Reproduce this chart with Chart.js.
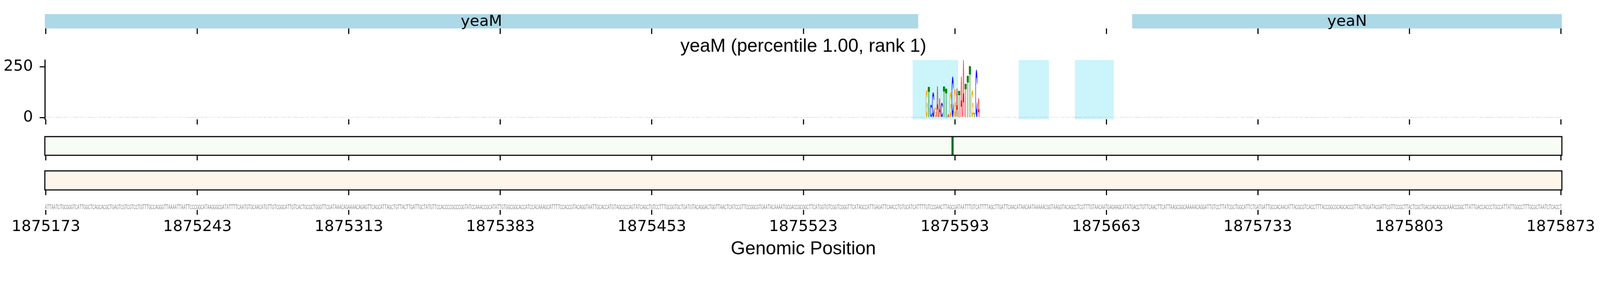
<!DOCTYPE html>
<html>
<head>
<meta charset="utf-8">
<script src="https://cdn.jsdelivr.net/npm/chart.js@4.4.1/dist/chart.umd.min.js"></script>
<style>
  html, body { margin: 0; background: #fff; overflow: hidden; }
  #wrap { position: relative; overflow: hidden; }
  #wrap canvas { position: absolute; left: 0; }
</style>
</head>
<body>
<div id="wrap">
  <canvas id="geneChart" width="4320" height="92" data-top="0"></canvas>
  <canvas id="logoChart" width="4320" height="244" data-top="92"></canvas>
  <canvas id="greenChart" width="4320" height="98" data-top="336"></canvas>
  <canvas id="orangeChart" width="4320" height="93" data-top="434"></canvas>
  <canvas id="seqChart" width="4320" height="193" data-top="527"></canvas>
</div>
<script>
const SEQ_START = 1875173;
const sequence = [
  "ATTAATCTGC", "GGGTCATTGG", "CTCAGCACGC", "TGAGTCGTCG", "TCCTGTTTGC", "CAGGGTTAAA", "ATTAATTCCC",
  "GGCATAAGGG", "CGATATTTTC", "AATGTGCAAC", "ATGTTGTCGG", "CATTGTCACT", "GCGCTGGGTT", "CGATAAACAG",
  "AAAACAGAGT", "TCAGCATTAG", "CTGTTACTTG", "ATTGCTATGT", "TCCACCCCGC", "CCGGTATCCA", "AACCGCATAT",
  "TGTGGCGGCA", "CCATCCACAA", "AGCATTTTCC", "ACCGTACAGG", "TAATTGCACC", "ATGTAGCGCC", "AGTATCAGCT",
  "GTCCTTTGCG", "GTGCTGATGT", "ACAGGACTGG", "TTAACTCATC", "CGTTCCGGCG", "TGAATACAAA", "ATGCGACCGC",
  "GGCTTCATGG", "TGTCGGTCGG", "GTTCATAGCC", "ATTGAGATTC", "AACCTGTGCA", "TCATTTTGTC", "CGAACTTAGC",
  "GATAATTTGT", "CATTTTAGCT", "TGATTCAACA", "TAACAATAAA", "AACGGTAAGG", "TACAGCCTCG", "TTTGTAACAA",
  "TGAGAAGCAT", "ATGACCTGTT", "CAACTTCATT", "AAGCGGCAAA", "AACAGGATTG", "TCCTTATCGC", "TGGCATTCTG",
  "ATGATTGCCA", "CAACATTACG", "CGTCACCTTT", "ACCGGCGCAG", "CACCGTTACT", "GGATACGATT", "CGTTCCGCTT",
  "ACTCGCTGAC", "GACAGCGCAA", "ACCGGCTTAT", "TGACCACCCT", "GCCATTATTG", "GCCTTTGCGC", "TAATCTCACCT"
].join("");

const tickValues = [1875173, 1875243, 1875313, 1875383, 1875453, 1875523, 1875593, 1875663, 1875733, 1875803, 1875873];
const xMin = 1875172.5;
const xMax = 1875873.5;

const geneNames = ["yeaM", "yeaN"];
const geneStarts = [1875172.5, 1875675];
const geneEnds = [1875576, 1875873.5];

const logoTitle = "yeaM (percentile 1.00, rank 1)";
const motifStart = 1875580;
const motifHeights = [135, 152, 64, 126, 49, 154, 94, 73, 153, 144, 18, 126, 204, 140, 143, 133, 202, 281, 167, 207, 254, 135, 22, 237, 94];
const backgroundHeight = 4;
const logoYTicks = [0, 250];

const spanStarts = [1875573.5, 1875622.5, 1875648.5];
const spanEnds = [1875594.5, 1875636.5, 1875666.5];

const greenHitPositions = [1875592];
const greenHitValues = [0.88];
const orangeHitPositions = [];
const orangeHitValues = [];

const baseColors = { A: "#ff0000", C: "#0000ff", G: "#ffa500", T: "#008000" };
const greens = ["#f7fcf5", "#e5f5e0", "#c7e9c0", "#a1d99b", "#74c476", "#41ab5d", "#238b45", "#006d2c", "#00441b"];
const oranges = ["#fff5eb", "#fee6ce", "#fdd0a2", "#fdae6b", "#fd8d3c", "#f16913", "#d94801", "#a63603", "#7f2704"];

const positions = Array.from(sequence, (b, i) => SEQ_START + i);
const logoHeights = positions.map((p) => {
  const k = p - motifStart;
  return k >= 0 && k < motifHeights.length ? motifHeights[k] : backgroundHeight;
});

// canvases are drawn in 4320x720 picture pixels, then fitted to the viewport
const FIG_W = 4320;
const FIG_H = 720;
const fit = (window.innerWidth || FIG_W) / FIG_W;
const wrap = document.getElementById("wrap");
wrap.style.width = FIG_W * fit + "px";
wrap.style.height = FIG_H * fit + "px";
document.querySelectorAll("#wrap canvas").forEach((c) => {
  c.style.width = c.width * fit + "px";
  c.style.height = c.height * fit + "px";
  c.style.top = Number(c.dataset.top) * fit + "px";
});

Chart.defaults.font.family = "'DejaVu Sans'";
Chart.defaults.font.size = 41.67;
Chart.defaults.color = "#000";

function hexToRgb(h) {
  return [1, 3, 5].map((i) => parseInt(h.substr(i, 2), 16));
}

function cmap(stops, v) {
  const t = Math.min(Math.max(v, 0), 1) * (stops.length - 1);
  const i = Math.min(Math.floor(t), stops.length - 2);
  const f = t - i;
  const a = hexToRgb(stops[i]);
  const b = hexToRgb(stops[i + 1]);
  const c = a.map((x, j) => Math.round(x + (b[j] - x) * f));
  return `rgb(${c[0]},${c[1]},${c[2]})`;
}

// stretch a glyph so its ink box fills (x0, y0, w, h)
const metricCache = {};
function drawGlyph(ctx, ch, font, color, x0, y0, w, h) {
  ctx.save();
  ctx.font = font;
  const key = font + ch;
  if (!metricCache[key]) metricCache[key] = ctx.measureText(ch);
  const m = metricCache[key];
  const gl = -m.actualBoundingBoxLeft;
  const gt = -m.actualBoundingBoxAscent;
  const gw = m.actualBoundingBoxRight + m.actualBoundingBoxLeft;
  const gh = m.actualBoundingBoxAscent + m.actualBoundingBoxDescent;
  ctx.translate(x0, y0);
  ctx.scale(w / gw, h / gh);
  ctx.translate(-gl, -gt);
  ctx.fillStyle = color;
  ctx.textAlign = "left";
  ctx.textBaseline = "alphabetic";
  ctx.fillText(ch, 0, 0);
  ctx.restore();
}

function xScale(tickLength, extra) {
  return Object.assign(
    {
      type: "linear",
      min: xMin,
      max: xMax,
      offset: false,
      afterBuildTicks: (s) => {
        s.ticks = tickValues.map((v) => ({ value: v }));
      },
      ticks: { display: false },
      grid: {
        display: true,
        drawOnChartArea: false,
        drawTicks: true,
        offset: false,
        tickLength: tickLength,
        tickWidth: 3,
        tickColor: "#000",
      },
      border: { display: false },
    },
    extra || {}
  );
}

function baseOptions(padding, scales) {
  return {
    responsive: false,
    devicePixelRatio: 1,
    animation: false,
    events: [],
    layout: { padding: padding },
    scales: scales,
    plugins: { legend: { display: false }, tooltip: { enabled: false } },
  };
}

const geneLabelPlugin = {
  id: "geneLabels",
  afterDatasetsDraw: (chart) => {
    const { ctx, chartArea } = chart;
    chart.data.datasets.forEach((ds, i) => {
      const el = chart.getDatasetMeta(i).data[0];
      const left = Math.max(Math.min(el.x, el.base), chartArea.left);
      const right = Math.min(Math.max(el.x, el.base), chartArea.right);
      ctx.save();
      ctx.font = "41.67px 'DejaVu Sans'";
      ctx.fillStyle = "#000";
      ctx.textAlign = "center";
      ctx.textBaseline = "alphabetic";
      ctx.fillText(ds.label, (left + right) / 2, el.y + 12);
      ctx.restore();
    });
  },
};

const spanPlugin = {
  id: "spans",
  beforeDatasetsDraw: (chart) => {
    const { ctx, chartArea, scales } = chart;
    ctx.save();
    ctx.fillStyle = "rgba(0, 200, 235, 0.2)";
    spanStarts.forEach((s, i) => {
      const x1 = scales.x.getPixelForValue(s);
      const x2 = scales.x.getPixelForValue(spanEnds[i]);
      ctx.fillRect(x1, chartArea.top, x2 - x1, chartArea.bottom - chartArea.top);
    });
    ctx.restore();
  },
};

const logoPlugin = {
  id: "logoLetters",
  afterDatasetsDraw: (chart) => {
    const { ctx } = chart;
    chart.getDatasetMeta(0).data.forEach((el, i) => {
      const b = sequence[i];
      const w = el.width * 0.94;
      const top = Math.min(el.y, el.base);
      const h = Math.abs(el.base - el.y);
      if (h < 0.5) return;
      ctx.save();
      ctx.globalAlpha = logoHeights[i] > backgroundHeight ? 1 : 0.6;
      drawGlyph(ctx, b, "bold 200px 'Liberation Sans'", baseColors[b], el.x - w / 2, top, w, h);
      ctx.restore();
    });
  },
  afterDraw: (chart) => {
    const { ctx, chartArea } = chart;
    ctx.save();
    ctx.font = "50px 'Liberation Sans'";
    ctx.fillStyle = "#000";
    ctx.textAlign = "center";
    ctx.textBaseline = "alphabetic";
    ctx.fillText(logoTitle, (chartArea.left + chartArea.right) / 2, chartArea.top - 22);
    ctx.restore();
  },
};

const framePlugin = {
  id: "frame",
  afterDatasetsDraw: (chart) => {
    const { ctx, chartArea } = chart;
    ctx.save();
    ctx.strokeStyle = "#000";
    ctx.lineWidth = 3;
    ctx.strokeRect(chartArea.left, chartArea.top, chartArea.right - chartArea.left, chartArea.bottom - chartArea.top);
    ctx.restore();
  },
};

const sequencePlugin = {
  id: "sequenceText",
  afterDatasetsDraw: (chart) => {
    const { ctx, chartArea } = chart;
    chart.getDatasetMeta(0).data.forEach((el, i) => {
      drawGlyph(ctx, sequence[i], "60px 'Liberation Sans'", "#808080", el.x - 2.7, chartArea.bottom - 14, 5.4, 12);
    });
  },
};

// gene track
new Chart(document.getElementById("geneChart"), {
  type: "bar",
  data: {
    labels: ["genes"],
    datasets: geneNames.map((n, i) => ({
      label: n,
      data: [[geneStarts[i], geneEnds[i]]],
      backgroundColor: "#add8e6",
      borderWidth: 0,
      grouped: false,
      barPercentage: 1,
      categoryPercentage: 1,
    })),
  },
  options: Object.assign(
    baseOptions({ top: 38, bottom: 0, left: 121, right: 103 }, { x: xScale(15), y: { display: false } }),
    { indexAxis: "y" }
  ),
  plugins: [geneLabelPlugin],
});

// attribution logo
new Chart(document.getElementById("logoChart"), {
  type: "bar",
  data: {
    datasets: [
      {
        data: positions.map((p, i) => ({ x: p, y: logoHeights[i] })),
        backgroundColor: "rgba(0,0,0,0)",
        borderWidth: 0,
        barPercentage: 1,
        categoryPercentage: 1,
      },
    ],
  },
  options: baseOptions(
    { top: 70, bottom: 0, left: 0, right: 103 },
    {
      x: xScale(14),
      y: {
        type: "linear",
        min: -9,
        max: 283,
        afterBuildTicks: (s) => {
          s.ticks = logoYTicks.map((v) => ({ value: v }));
        },
        afterFit: (s) => {
          s.width = 121;
          s.paddingTop = 0;
          s.paddingBottom = 0;
        },
        ticks: { padding: 18, callback: (v) => String(v) },
        grid: { drawOnChartArea: false, tickLength: 14, tickWidth: 3, tickColor: "#000" },
        border: { display: true, color: "#000", width: 3 },
      },
    }
  ),
  plugins: [spanPlugin, logoPlugin],
});

function heatChart(id, stops, hitPos, hitVal, padTop) {
  const values = positions.map((p) => {
    const k = hitPos.indexOf(p);
    return k >= 0 ? hitVal[k] : 0;
  });
  return new Chart(document.getElementById(id), {
    type: "bar",
    data: {
      datasets: [
        {
          data: positions.map((p) => ({ x: p, y: [0, 1] })),
          backgroundColor: values.map((v) => cmap(stops, v)),
          borderWidth: 0,
          barPercentage: 1,
          categoryPercentage: 1,
        },
      ],
    },
    options: baseOptions(
      { top: padTop, bottom: 0, left: 121, right: 103 },
      { x: xScale(14), y: { display: false, min: 0, max: 1 } }
    ),
    plugins: [framePlugin],
  });
}

heatChart("greenChart", greens, greenHitPositions, greenHitValues, 33);
heatChart("orangeChart", oranges, orangeHitPositions, orangeHitValues, 28);

// sequence + genomic position axis
new Chart(document.getElementById("seqChart"), {
  type: "scatter",
  data: {
    datasets: [{ data: positions.map((p) => ({ x: p, y: 0 })), pointRadius: 0, showLine: false }],
  },
  options: baseOptions(
    { top: 13, bottom: 17, left: 121, right: 103 },
    {
      x: xScale(13, {
        afterFit: (s) => {
          s.height = 136;
        },
        ticks: { display: true, padding: 8, autoSkip: false, maxRotation: 0, minRotation: 0, callback: (v) => String(v) },
        title: {
          display: true,
          text: "Genomic Position",
          font: { family: "'Liberation Sans'", size: 50 },
          padding: { top: 5, bottom: 0 },
        },
      }),
      y: { display: false, min: 0, max: 1 },
    }
  ),
  plugins: [sequencePlugin],
});
</script>
</body>
</html>
